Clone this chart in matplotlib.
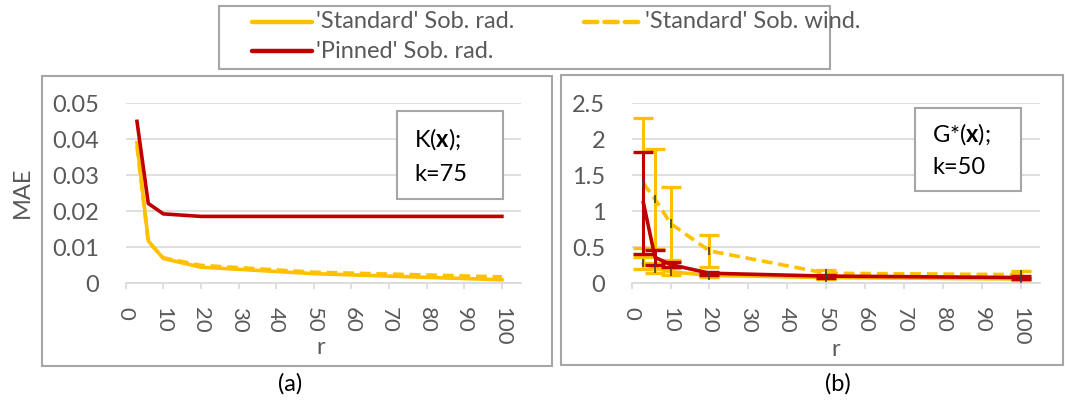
import matplotlib
matplotlib.use("Agg")
import matplotlib.pyplot as plt
from matplotlib.lines import Line2D
from matplotlib.patches import Rectangle

plt.rcParams['font.family'] = ['Lato', 'DejaVu Sans']
plt.rcParams['mathtext.fontset'] = 'custom'
plt.rcParams['mathtext.rm'] = 'Lato'
plt.rcParams['mathtext.bf'] = 'Lato:bold'

# data
r = [3, 6, 10, 20, 50, 100]

# (a) K(x); k=75
a_std_rad = [0.039, 0.0117, 0.0068, 0.0044, 0.0026, 0.0009]
a_std_wind = [0.038, 0.0115, 0.0070, 0.0049, 0.0030, 0.0017]
a_pin_rad = [0.0449, 0.0221, 0.0192, 0.0185, 0.0185, 0.0185]

# (b) G*(x); k=50, with error bars
b_std_rad = [0.28, 0.21, 0.16, 0.11, 0.08, 0.06]
b_std_rad_err = [0.08, 0.07, 0.05, 0.02, 0.02, 0.02]
b_std_wind = [1.39, 1.17, 0.83, 0.45, 0.14, 0.12]
b_std_wind_err = [0.90, 0.70, 0.51, 0.22, 0.05, 0.05]
b_pin_rad = [1.12, 0.36, 0.26, 0.14, 0.10, 0.08]
b_pin_rad_err = [0.71, 0.10, 0.04, 0.02, 0.02, 0.02]

labels = ["'Standard' Sob. rad.", "'Pinned' Sob. rad.", "'Standard' Sob. wind."]

YEL = '#FFC000'
RED = '#C00000'
TXT = '#595959'
GRID = '#D9D9D9'
FRAME = '#A6A6A6'

W, H = 1065, 409
fig = plt.figure(figsize=(W / 100, H / 100), dpi=100)


def px(x0, y0, x1, y1):
    # pixel box (top-left origin) -> figure fraction
    return [x0 / W, 1 - y1 / H, (x1 - x0) / W, (y1 - y0) / H]


def box(x0, y0, x1, y1, z=1, fill=True):
    b = px(x0, y0, x1, y1)
    fig.patches.append(Rectangle((b[0], b[1]), b[2], b[3], transform=fig.transFigure,
                                 fill=fill, facecolor='white', edgecolor=FRAME,
                                 lw=1.5, zorder=z))


def ftext(x, y, s, **kw):
    kw.setdefault('fontsize', 17)
    kw.setdefault('color', TXT)
    kw.setdefault('va', 'center')
    return fig.text(x / W, 1 - y / H, s, **kw)


def style(ax, ymax, ystep, fmt):
    n = int(round(ymax / ystep)) + 1
    ax.set_xlim(0, 105)
    ax.set_ylim(0, ymax)
    ax.set_xticks(range(0, 101, 10))
    ax.set_yticks([i * ystep for i in range(n)])
    ax.set_yticklabels([fmt(i * ystep) for i in range(n)])
    for s in ['top', 'right', 'left']:
        ax.spines[s].set_visible(False)
    ax.spines['bottom'].set_color(GRID)
    ax.spines['bottom'].set_linewidth(1.2)
    ax.grid(axis='y', color=GRID, lw=1.2)
    ax.set_axisbelow(True)
    ax.tick_params(axis='y', length=0, pad=19, labelsize=17, labelcolor=TXT)
    ax.tick_params(axis='x', length=4, width=1.2, color=GRID, pad=13,
                   labelsize=16, labelcolor=TXT, labelrotation=-90)
    ax.patch.set_alpha(0)


# panel (a)
box(42, 75.5, 552, 365.5, z=0, fill=False)
ax1 = fig.add_axes(px(125.7, 103, 520.7, 283))
ax1.plot(r, a_std_rad, color=YEL, lw=2.6, zorder=3)
ax1.plot(r, a_std_wind, color=YEL, lw=2.6, dashes=(3, 1.6), zorder=4)
ax1.plot(r, a_pin_rad, color=RED, lw=2.6, zorder=5)
style(ax1, 0.05, 0.01, lambda v: '0' if v == 0 else '%.2f' % v)
ftext(22, 192, 'MAE', rotation=90, ha='center')
ftext(321, 347, 'r', ha='center')
ftext(290, 384, '(a)', ha='center', color='black')
box(397, 111, 503, 199, z=6)
ftext(414, 139, r'K($\mathbf{x}$);', ha='left', color='black', zorder=7)
ftext(414, 174, 'k=75', ha='left', color='black', zorder=7)

# panel (b)
box(561, 75, 1063, 365, z=0, fill=False)
ax2 = fig.add_axes(px(631.7, 103.3, 1040, 283.3))
ax2.errorbar(r, b_std_rad, yerr=b_std_rad_err, color=YEL, lw=2.6, elinewidth=2.2,
             capsize=7, capthick=2.4, zorder=3)
ax2.errorbar(r, b_std_wind, yerr=b_std_wind_err, color=YEL, lw=2.6, elinewidth=2.2,
             capsize=7, capthick=2.4, dashes=(3, 1.6), zorder=4)
ax2.errorbar(r, b_pin_rad, yerr=b_pin_rad_err, color=RED, lw=2.6, elinewidth=2.2,
             capsize=7, capthick=2.4, zorder=5)
# small dark dotted error marks through the yellow series
for ys in (b_std_rad, b_std_wind):
    ax2.errorbar(r, ys, yerr=0.06, fmt='none', ecolor='#404040', elinewidth=1.2,
                 linestyle=':', zorder=6)
style(ax2, 2.5, 0.5, lambda v: '%g' % v)
ftext(836, 350, 'r', ha='center')
ftext(838, 384, '(b)', ha='center', color='black')
box(915, 108, 1021, 191, z=6)
ftext(932, 134, r'G*($\mathbf{x}$);', ha='left', color='black', zorder=7)
ftext(932, 168, 'k=50', ha='left', color='black', zorder=7)

# legend, laid out by hand like the original
box(219, 5.7, 830, 69.3, z=1)
entries = [(252, 312, 22, labels[0], None, YEL),
           (252, 312, 51, labels[1], None, RED),
           (584, 641, 22, labels[2], (3, 1.6), YEL)]
for x0, x1, y, lab, dash, col in entries:
    ln = Line2D([x0 / W, x1 / W], [1 - y / H, 1 - y / H], transform=fig.transFigure,
                color=col, lw=3.2, solid_capstyle='round', dash_capstyle='round', zorder=2)
    if dash:
        ln.set_dashes(dash)
    fig.lines.append(ln)
    ftext(x1 + 4, y, lab, ha='left', zorder=2)

fig.savefig('out.png', dpi=100)
